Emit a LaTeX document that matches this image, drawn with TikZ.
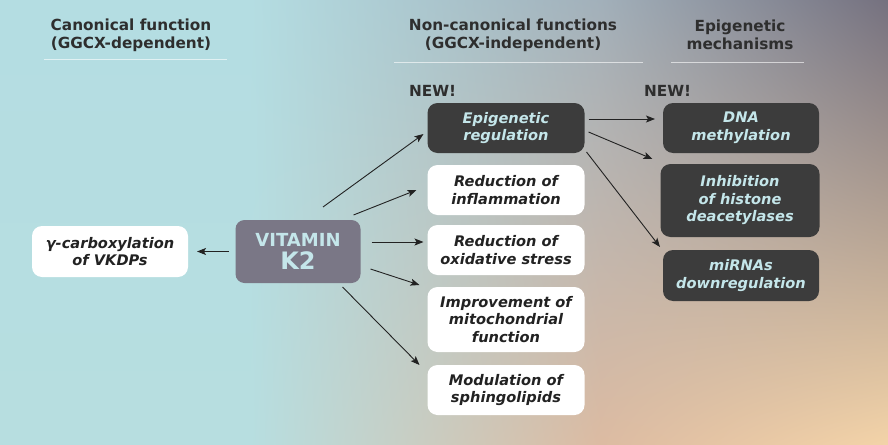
\documentclass[tikz,border=0pt]{standalone}
\usepackage{fontspec}
\setmainfont{DejaVu Sans}
\usetikzlibrary{arrows.meta,shadings}

\definecolor{bgcyan}{HTML}{B4DDE2}
\definecolor{bgcyanlow}{HTML}{B7DEE0}
\definecolor{bggreytop}{HTML}{A2B0BA}
\definecolor{bgrosy}{HTML}{DCBBA2}
\definecolor{bgpurple}{HTML}{75717F}
\definecolor{bgpeach}{HTML}{F3D3A8}
\definecolor{darkbox}{HTML}{3C3C3C}
\definecolor{vkfill}{HTML}{7A7786}
\definecolor{lighttext}{HTML}{C4E6EA}
\definecolor{inktext}{HTML}{222222}
\definecolor{headtext}{HTML}{2E2E2E}

\begin{document}
\begin{tikzpicture}[x=1pt,y=-1pt,inner sep=0pt,outer sep=0pt,
arr/.style={-{Stealth[length=9pt,width=7pt,inset=2pt]},draw=inktext,line width=0.9pt},
heading/.style={font=\bfseries\fontsize{15.3}{18}\selectfont,text=headtext,align=center},
rule/.style={draw=white,opacity=0.6,line width=0.8pt},
whitebox/.style={fill=white,rounded corners=10pt,minimum width=157pt,minimum height=50pt,align=center,text=inktext,font=\bfseries\itshape\fontsize{14.6}{17.5}\selectfont},
darkbox/.style={whitebox,fill=darkbox,text=lighttext}]

\useasboundingbox (0,0) rectangle (888,444);
% background
\shade[upper left=bgcyan,lower left=bgcyanlow,upper right=bgcyan,lower right=bgcyanlow] (0,0) rectangle (250.5,444);
\shade[upper left=bgcyan,lower left=bgcyanlow,upper right=bggreytop,lower right=bgrosy] (250,0) rectangle (600.5,444);
\shade[upper left=bggreytop,lower left=bgrosy,upper right=bgpurple,lower right=bgpeach] (600,0) rectangle (888,444);

% headings
\draw (131,35) node[heading] (hcan) {Canonical function\\(GGCX-dependent)};
\draw (513,35) node[heading] (hnon) {Non-canonical functions\\(GGCX-independent)};
\draw (740,35) node[heading] (hepi) {Epigenetic\\mechanisms};
\draw[rule] (44,59) -- (227,59);
\draw[rule] (394,62) -- (643,62);
\draw[rule] (671,62) -- (804,62);
\draw (409,91) node[heading,anchor=west] (new1) {NEW!};
\draw (644,91) node[heading,anchor=west] (new2) {NEW!};

% boxes
\draw (110,251.5) node[whitebox,minimum width=156pt,minimum height=51pt] (carb) {γ-carboxylation\\of VKDPs};
\draw (298,251.5) node[fill=vkfill,rounded corners=9pt,minimum width=125pt,minimum height=63pt,align=center,text=lighttext,font=\bfseries\fontsize{24}{23}\selectfont] (vk) {{\fontsize{18}{18}\selectfont VITAMIN}\\K2};

\draw (506,128) node[darkbox] (epi) {Epigenetic\\regulation};
\draw (506,190) node[whitebox] (infl) {Reduction of\\inflammation};
\draw (506,250) node[whitebox] (oxi) {Reduction of\\oxidative stress};
\draw (506,319.5) node[whitebox,minimum height=65pt] (mito) {Improvement of\\mitochondrial\\function};
\draw (506,390) node[whitebox] (sph) {Modulation of\\sphingolipids};

\draw (741,128) node[darkbox,minimum width=156pt] (dna) {DNA\\methylation};
\draw (740,200.5) node[darkbox,minimum width=159pt,minimum height=73pt] (hdac) {Inhibition\\of histone\\deacetylases};
\draw (741,275.5) node[darkbox,minimum width=156pt,minimum height=51pt] (mir) {miRNAs\\downregulation};

% arrows
\draw[arr] ([xshift=-7pt]vk.west) -- ([xshift=9pt]carb.east);
\draw[arr] ([shift={(25,-13)}]vk.north) -- ([shift={(-4,6)}]epi.west);
\draw[arr] ([shift={(-7,-5)}]vk.north east) -- ([shift={(-11,0)}]infl.west);
\draw[arr] ([shift={(11,-9.5)}]vk.east) -- ([shift={(-4,-8)}]oxi.west);
\draw[arr] ([shift={(10,17.5)}]vk.east) -- ([shift={(-8,-2)}]mito.north west);
\draw[arr] ([shift={(-18,4)}]vk.south east) -- ([shift={(-8,0)}]sph.north west);

\draw[arr] ([shift={(4,-9)}]epi.east) -- ([shift={(-8,-9)}]dna.west);
\draw[arr] ([shift={(4,4)}]epi.east) -- ([shift={(-8,-5)}]hdac.north west);
\draw[arr] ([shift={(2,-1)}]epi.south east) -- ([shift={(-3,-3)}]mir.north west);
\end{tikzpicture}
\end{document}
